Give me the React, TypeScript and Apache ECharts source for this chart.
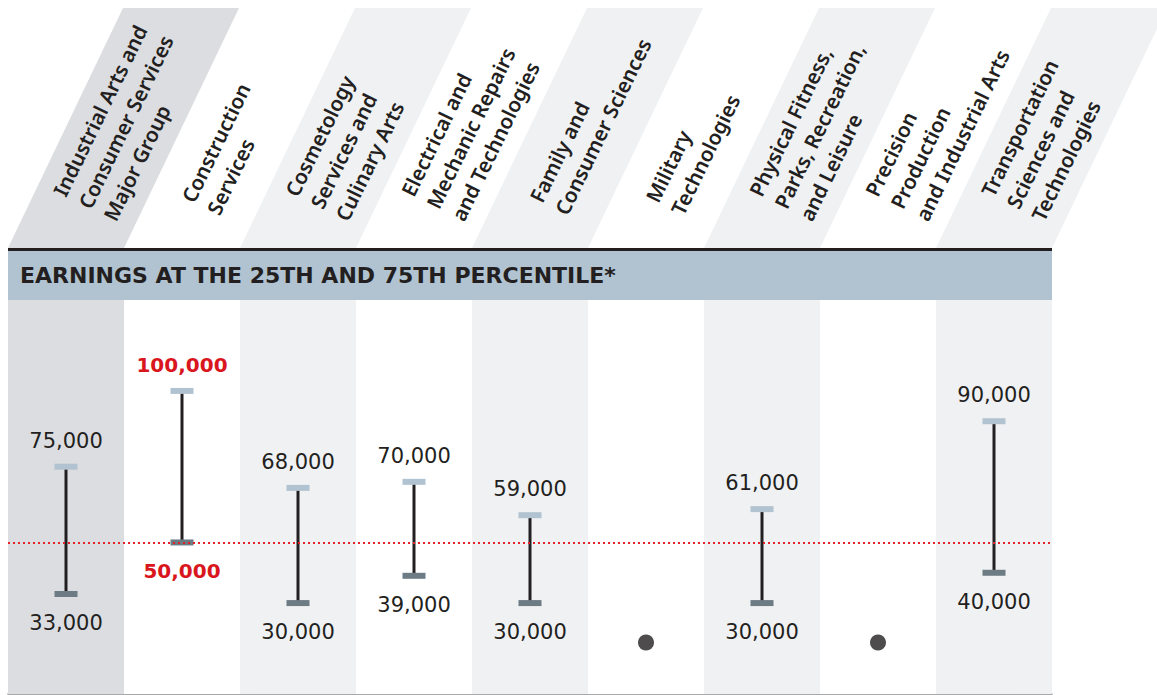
import React, { useEffect, useRef } from "react";
import * as echarts from "echarts";

// ---------- data ----------
const categories: string[] = [
  "Industrial Arts and\nConsumer Services\nMajor Group",
  "Construction\nServices",
  "Cosmetology\nServices and\nCulinary Arts",
  "Electrical and\nMechanic Repairs\nand Technologies",
  "Family and\nConsumer Sciences",
  "Military\nTechnologies",
  "Physical Fitness,\nParks, Recreation,\nand Leisure",
  "Precision\nProduction\nand Industrial Arts",
  "Transportation\nSciences and\nTechnologies",
];
const p25: (number | null)[] = [33000, 50000, 30000, 39000, 30000, null, 30000, null, 40000];
const p75: (number | null)[] = [75000, 100000, 68000, 70000, 59000, null, 61000, null, 90000];
const highlighted: boolean[] = [false, true, false, false, false, false, false, false, false];
const referenceLine = 50000;
const noDataLevel = 17000;
const title = "EARNINGS AT THE 25TH AND 75TH PERCENTILE*";

// ---------- layout ----------
const W = 1157;
const H = 695;
const GRID_LEFT = 8;
const GRID_RIGHT = 105;
const GRID_TOP = 300;
const GRID_BOTTOM = 1;
const Y_MAX = 130000;
const PLOT_W = W - GRID_LEFT - GRID_RIGHT;
const COL_W = PLOT_W / categories.length;

const DARK = "#231f20";
const RED = "#d9161d";
const SHADE_DARK = "#dcdde0";
const SHADE_LIGHT = "#f0f1f3";

const shadeOf = (i: number) => (i === 0 ? SHADE_DARK : i % 2 === 0 ? SHADE_LIGHT : "#ffffff");
const fmt = (v: number) => v.toLocaleString("en-US");

export default function App() {
  const ref = useRef<HTMLDivElement>(null);

  useEffect(() => {
    if (!ref.current) return;
    const chart = echarts.init(ref.current, undefined, { renderer: "svg" });

    const HEADER_BOTTOM = 248;
    const HEADER_TOP = 8;
    const SLANT = 115;
    const rot = (64 * Math.PI) / 180;

    const graphics: any[] = [];
    categories.forEach((name, i) => {
      const x0 = GRID_LEFT + i * COL_W;
      const fill = shadeOf(i);
      if (fill !== "#ffffff") {
        graphics.push({
          type: "polygon",
          z: 0,
          shape: {
            points: [
              [x0, HEADER_BOTTOM],
              [x0 + COL_W, HEADER_BOTTOM],
              [x0 + COL_W + SLANT, HEADER_TOP],
              [x0 + SLANT, HEADER_TOP],
            ],
          },
          style: { fill },
          silent: true,
        });
      }
      graphics.push({
        type: "text",
        z: 5,
        x: x0 + COL_W / 2 + 18,
        y: 207,
        rotation: rot,
        style: {
          text: name,
          align: "left",
          verticalAlign: "middle",
          fill: DARK,
          fontFamily: "Noto Sans",
          fontWeight: 600,
          fontSize: 20.5,
          lineHeight: 28,
        },
        silent: true,
      });
    });
    graphics.push({
      type: "rect",
      z: 5,
      shape: { x: GRID_LEFT, y: 248, width: PLOT_W, height: 3 },
      style: { fill: DARK },
      silent: true,
    });
    graphics.push({
      type: "rect",
      z: 5,
      shape: { x: GRID_LEFT, y: 251, width: PLOT_W, height: GRID_TOP - 251 },
      style: { fill: "#b1c3d1" },
      silent: true,
    });
    graphics.push({
      type: "text",
      z: 6,
      x: 20,
      y: 275,
      style: {
        text: title,
        align: "left",
        verticalAlign: "middle",
        fill: DARK,
        fontFamily: "DejaVu Sans",
        fontWeight: "bold",
        fontSize: 22,
      },
      silent: true,
    });

    const rangeData = categories
      .map((_, i) => (p25[i] != null && p75[i] != null ? [i, p25[i], p75[i]] : null))
      .filter((d) => d !== null);

    const option: any = {
      animation: false,
      backgroundColor: "#ffffff",
      grid: { left: GRID_LEFT, right: GRID_RIGHT, top: GRID_TOP, bottom: GRID_BOTTOM, containLabel: false },
      xAxis: {
        type: "category",
        data: categories,
        boundaryGap: true,
        axisLabel: { show: false },
        axisTick: { show: false },
        axisLine: { show: true, lineStyle: { color: "#8c8c8c", width: 1.5 } },
      },
      yAxis: {
        type: "value",
        min: 0,
        max: Y_MAX,
        show: false,
        splitLine: { show: false },
      },
      graphic: graphics,
      series: [
        {
          type: "bar",
          silent: true,
          z: 1,
          barWidth: "100%",
          data: categories.map((_, i) => ({ value: Y_MAX, itemStyle: { color: shadeOf(i) } })),
          markLine: {
            silent: true,
            symbol: "none",
            label: { show: false },
            lineStyle: { color: "#e2242a", type: [2, 3], width: 2 },
            data: [{ yAxis: referenceLine }],
          },
        },
        {
          type: "custom",
          z: 3,
          silent: true,
          data: rangeData,
          encode: { x: 0, y: [1, 2] },
          renderItem: (params: any, api: any) => {
            const i = api.value(0);
            const lo = api.value(1);
            const hi = api.value(2);
            const top = api.coord([i, hi]);
            const bot = api.coord([i, lo]);
            const x = top[0];
            const hl = highlighted[i];
            const textStyle = {
              fill: hl ? RED : DARK,
              fontFamily: "DejaVu Sans",
              fontWeight: hl ? "bold" : "normal",
              fontSize: hl ? 20 : 21,
              align: "center",
              verticalAlign: "middle",
            };
            return {
              type: "group",
              children: [
                {
                  type: "rect",
                  shape: { x: x - 1.5, y: top[1], width: 3, height: bot[1] - top[1] },
                  style: { fill: DARK },
                },
                {
                  type: "rect",
                  shape: { x: x - 11.5, y: top[1] - 3, width: 23, height: 6 },
                  style: { fill: "#b1c3d1" },
                },
                {
                  type: "rect",
                  shape: { x: x - 11.5, y: bot[1] - 3, width: 23, height: 6 },
                  style: { fill: "#6d7b85" },
                },
                {
                  type: "text",
                  x,
                  y: top[1] - 26,
                  style: { ...textStyle, text: fmt(hi) },
                },
                {
                  type: "text",
                  x,
                  y: bot[1] + 29,
                  style: { ...textStyle, text: fmt(lo) },
                },
              ],
            };
          },
        },
        {
          type: "scatter",
          z: 3,
          silent: true,
          symbol: "circle",
          symbolSize: 16,
          itemStyle: { color: DARK },
          data: categories.map((_, i) => (p25[i] == null ? noDataLevel : "-")),
        },
      ],
    };

    chart.setOption(option);
    return () => chart.dispose();
  }, []);

  return (
    <div
      ref={ref}
      style={{ position: "fixed", left: 0, top: 0, width: W, height: H, background: "#ffffff" }}
    />
  );
}
